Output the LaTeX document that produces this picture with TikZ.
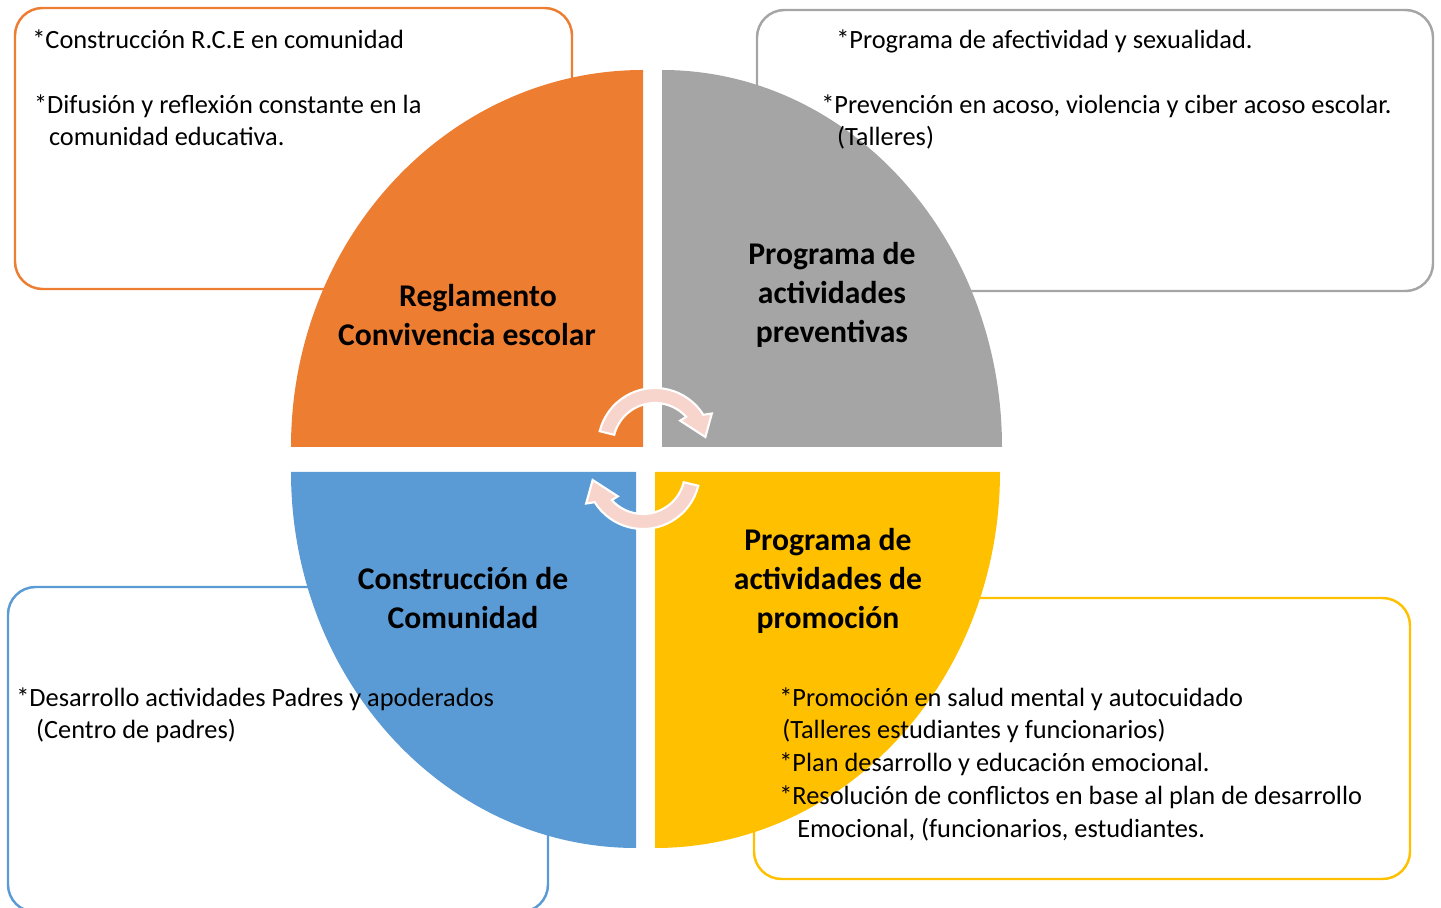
\documentclass[tikz,border=0pt]{standalone}
\usepackage{fontspec}
\setmainfont{Carlito}
\usetikzlibrary{calc}

\definecolor{rceorange}{HTML}{ED7D31}
\definecolor{prevgray}{HTML}{A5A5A5}
\definecolor{comblue}{HTML}{5B9BD5}
\definecolor{promyellow}{HTML}{FFC000}
\definecolor{cyclepink}{HTML}{F8D5CC}

\tikzset{
    infobox/.style={line width=1.4pt, rounded corners=0.55cm},
    infotext/.style={anchor=base west, align=left, inner sep=0pt, font=\fontsize{15}{18.6}\selectfont},
    quartertitle/.style={align=center, inner sep=0pt, font=\fontsize{18}{22}\selectfont\bfseries},
    cyclearrow/.style={fill=cyclepink, draw=white, line width=1.2pt, line join=miter}
}

\begin{document}
\begin{tikzpicture}[x=0.02cm, y=-0.02cm]
        \useasboundingbox (0,0) rectangle (1441,908);

        % Draw the four outer boxes
        \draw[infobox, rceorange] (15,8) rectangle (572,289);
        \draw[infobox, prevgray] (757,10) rectangle (1433,291);
        \draw[infobox, comblue] (8,587) rectangle (548,912);
        \draw[infobox, promyellow] (754,598) rectangle (1410,879);

        % Draw the four quarters of the wheel
        \coordinate (rcecorner) at (643,447);
        \coordinate (prevcorner) at (662,447);
        \coordinate (comcorner) at (636,472);
        \coordinate (promcorner) at (655,472);
        \fill[rceorange] (rcecorner) -- (291,447) arc[start angle=180, end angle=270, x radius=352, y radius=377] -- cycle;
        \fill[prevgray] (prevcorner) -- (662,70) arc[start angle=270, end angle=360, x radius=340, y radius=377] -- cycle;
        \fill[comblue] (comcorner) -- (291,472) arc[start angle=180, end angle=90, x radius=345, y radius=376] -- cycle;
        \fill[promyellow] (promcorner) -- (1000,472) arc[start angle=0, end angle=90, x radius=345, y radius=376] -- cycle;

        % Draw the two turning arrows in the middle
        \coordinate (topturn) at (655,445);
        \coordinate (bottomturn) at (643,472);
        \filldraw[cyclearrow] ([shift={(194:57)}]topturn) arc[start angle=194, end angle=328, radius=57]
            -- ([shift={(331:65)}]topturn) -- ([shift={(351:51)}]topturn) -- ([shift={(316:35)}]topturn)
            -- ([shift={(318:42)}]topturn) arc[start angle=318, end angle=194, radius=42] -- cycle;
        \filldraw[cyclearrow] ([shift={(14:57)}]bottomturn) arc[start angle=14, end angle=148, radius=57]
            -- ([shift={(151:65)}]bottomturn) -- ([shift={(171:51)}]bottomturn) -- ([shift={(136:35)}]bottomturn)
            -- ([shift={(138:42)}]bottomturn) arc[start angle=138, end angle=14, radius=42] -- cycle;

        % Titles of the quarters
        \node[quartertitle] (rcetitle) at (478,315) {Reglamento\\Convivencia escolar\hspace*{12.5pt}};
        \node[quartertitle] (prevtitle) at (832,295) {Programa de\\actividades\\preventivas};
        \node[quartertitle] (comtitle) at (463,598) {Construcción de\\Comunidad};
        \node[quartertitle] (promtitle) at (828,581) {Programa de\\actividades de\\promoción};

        % Texts of the boxes (placed at the baseline of their last line)
        \node[infotext] (rcetext) at (32,146) {*Construcción R.C.E en comunidad\\[18.4pt]
            \hspace*{1pt}*Difusión y reflexión constante en la\\
            \hspace*{9.5pt}comunidad educativa.};
        \node[infotext] (prevtext) at (821,146) {\hspace*{8.5pt}*Programa de afectividad y sexualidad.\\[18.4pt]
            *Prevención en acoso, violencia y ciber acoso escolar.\\
            \hspace*{9pt}(Talleres)};
        \node[infotext] (comtext) at (16,739) {*Desarrollo actividades Padres y apoderados\\
            \hspace*{11.3pt}(Centro de padres)};
        \node[infotext] (promtext) at (779,837) {*Promoción en salud mental y autocuidado\\
            \hspace*{1.7pt}(Talleres estudiantes y funcionarios)\\
            *Plan desarrollo y educación emocional.\\
            *Resolución de conflictos en base al plan de desarrollo\\
            \hspace*{10.2pt}Emocional, (funcionarios, estudiantes.};
    \end{tikzpicture}
\end{document}
